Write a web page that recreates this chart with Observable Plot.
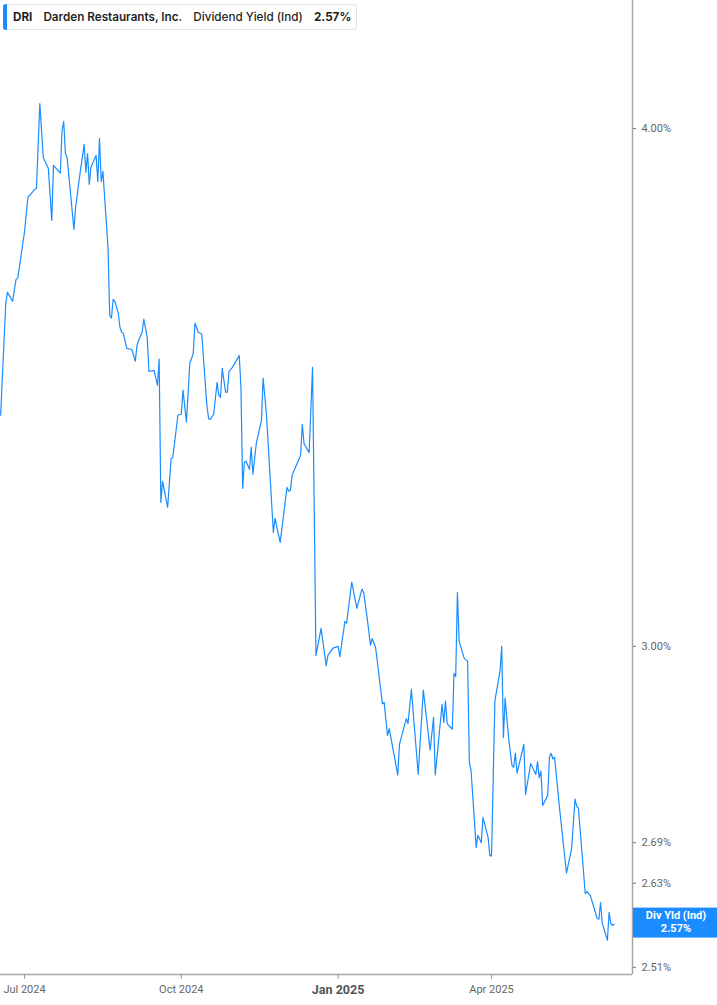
<!DOCTYPE html>
<html>
<head>
<meta charset="utf-8">
<script src="https://cdn.jsdelivr.net/npm/d3@7"></script>
<script src="https://cdn.jsdelivr.net/npm/@observablehq/plot@0.6"></script>
<style>
  html, body { margin: 0; padding: 0; background: #fff; }
  #wrap { position: relative; width: 717px; height: 1005px; overflow: hidden; }
  #legend {
    position: absolute; left: 3px; top: 4px; width: 354px; height: 26px;
    box-sizing: border-box; border: 1px solid #e4e4e4; border-radius: 3px; background: #fff;
    display: flex; align-items: center; white-space: nowrap;
    font-family: Inter, "Noto Sans", sans-serif; font-size: 11.7px; color: #1f1f1f;
  }
  #legend .bar { position: absolute; left: -1px; top: -1px; bottom: -1px; width: 4px; background: #1a8cff; border-radius: 3px 0 0 3px; }
  #legend .t1 { margin-left: 9px; font-weight: 700; }
  #legend .t2 { margin-left: 11px; font-weight: 600; }
  #legend .t3 { margin-left: 11px; font-weight: 500; }
  #legend .t4 { margin-left: 11px; font-weight: 700; }
</style>
</head>
<body>
<div id="wrap">
  <div id="chart"></div>
  <div id="legend"><span class="bar"></span><span class="t1">DRI</span><span class="t2">Darden Restaurants, Inc.</span><span class="t3">Dividend Yield (Ind)</span><span class="t4" id="lastv"></span></div>
</div>
<script>
const dates = [
  "2024-06-17","2024-06-20","2024-06-21","2024-06-24","2024-06-26","2024-06-27","2024-06-28","2024-06-30",
  "2024-07-01","2024-07-03","2024-07-07","2024-07-08","2024-07-10","2024-07-12","2024-07-15","2024-07-17",
  "2024-07-18","2024-07-22","2024-07-23","2024-07-24","2024-07-25","2024-07-26","2024-07-30","2024-07-31",
  "2024-08-02","2024-08-05","2024-08-06","2024-08-07","2024-08-08","2024-08-09","2024-08-12","2024-08-13",
  "2024-08-14","2024-08-15","2024-08-16","2024-08-19","2024-08-20","2024-08-21","2024-08-22","2024-08-23",
  "2024-08-25","2024-08-26","2024-08-27","2024-08-28","2024-08-30","2024-09-02","2024-09-04","2024-09-05",
  "2024-09-06","2024-09-08","2024-09-09","2024-09-11","2024-09-12","2024-09-15","2024-09-17","2024-09-18",
  "2024-09-19","2024-09-20","2024-09-23","2024-09-25","2024-09-26","2024-09-27","2024-09-29","2024-10-01",
  "2024-10-02","2024-10-04","2024-10-06","2024-10-08","2024-10-09","2024-10-11","2024-10-13","2024-10-16",
  "2024-10-17","2024-10-18","2024-10-20","2024-10-22","2024-10-23","2024-10-24","2024-10-25","2024-10-27",
  "2024-10-28","2024-10-29","2024-10-31","2024-11-04","2024-11-05","2024-11-06","2024-11-07","2024-11-08",
  "2024-11-10","2024-11-11","2024-11-12","2024-11-14","2024-11-17","2024-11-18","2024-11-20","2024-11-24",
  "2024-11-25","2024-11-28","2024-12-02","2024-12-03","2024-12-04","2024-12-05","2024-12-10","2024-12-11",
  "2024-12-12","2024-12-15","2024-12-17","2024-12-19","2024-12-22","2024-12-25","2024-12-26","2024-12-29",
  "2025-01-01","2025-01-02","2025-01-05","2025-01-06","2025-01-09","2025-01-12","2025-01-15","2025-01-16",
  "2025-01-18","2025-01-20","2025-01-21","2025-01-23","2025-01-27","2025-01-28","2025-01-30","2025-01-31",
  "2025-02-05","2025-02-06","2025-02-10","2025-02-11","2025-02-13","2025-02-17","2025-02-20","2025-02-24",
  "2025-02-26","2025-02-27","2025-03-03","2025-03-04","2025-03-05","2025-03-06","2025-03-09","2025-03-10",
  "2025-03-11","2025-03-12","2025-03-13","2025-03-16","2025-03-18","2025-03-19","2025-03-20","2025-03-23",
  "2025-03-24","2025-03-26","2025-03-27","2025-03-30","2025-03-31","2025-04-01","2025-04-03","2025-04-06",
  "2025-04-07","2025-04-08","2025-04-09","2025-04-11","2025-04-13","2025-04-14","2025-04-15","2025-04-16",
  "2025-04-20","2025-04-21","2025-04-24","2025-04-27","2025-04-28","2025-04-29","2025-04-30","2025-05-01",
  "2025-05-04","2025-05-05","2025-05-06","2025-05-07","2025-05-08","2025-05-11","2025-05-15","2025-05-18",
  "2025-05-20","2025-05-21","2025-05-22","2025-05-26","2025-05-27","2025-05-29","2025-06-02","2025-06-03",
  "2025-06-04","2025-06-05","2025-06-08","2025-06-09","2025-06-10","2025-06-11","2025-06-12"
];
const yields = [
  3.411,3.630,3.652,3.634,3.678,3.681,3.703,3.753,
  3.776,3.850,3.867,3.869,4.056,3.936,3.912,3.801,
  3.919,3.902,3.994,4.016,3.945,3.936,3.782,3.829,
  3.886,3.965,3.904,3.945,3.878,3.915,3.941,3.884,
  3.978,3.884,3.906,3.744,3.606,3.600,3.638,3.634,
  3.610,3.582,3.572,3.570,3.540,3.538,3.515,3.546,
  3.556,3.572,3.598,3.562,3.495,3.497,3.468,3.519,
  3.250,3.288,3.241,3.330,3.332,3.358,3.411,3.413,
  3.459,3.398,3.511,3.530,3.590,3.572,3.568,3.430,
  3.405,3.403,3.413,3.474,3.449,3.445,3.501,3.455,
  3.455,3.495,3.503,3.526,3.464,3.275,3.323,3.325,
  3.310,3.351,3.301,3.358,3.401,3.482,3.411,3.196,
  3.221,3.178,3.277,3.270,3.272,3.299,3.336,3.394,
  3.358,3.341,3.503,2.985,3.030,2.968,2.985,2.997,
  3.000,2.983,3.042,3.039,3.109,3.064,3.097,3.091,
  3.049,3.002,3.013,2.998,2.906,2.908,2.855,2.866,
  2.793,2.841,2.882,2.874,2.929,2.794,2.928,2.832,
  2.884,2.793,2.905,2.876,2.910,2.874,2.865,2.955,
  2.950,3.091,3.008,2.980,2.975,2.813,2.800,2.683,
  2.701,2.690,2.728,2.698,2.671,2.670,2.911,2.959,
  3.000,2.852,2.915,2.852,2.808,2.805,2.827,2.796,
  2.841,2.763,2.811,2.794,2.814,2.789,2.799,2.746,
  2.762,2.821,2.827,2.818,2.821,2.740,2.645,2.681,
  2.756,2.745,2.742,2.615,2.618,2.612,2.579,2.578,
  2.602,2.572,2.548,2.588,2.572,2.569,2.571
];
const xTickDates = ["2024-07-01","2024-10-01","2025-01-01","2025-04-01"];
const xTickLabels = ["Jul 2024","Oct 2024","Jan 2025","Apr 2025"];
const yTicks = [2.51, 2.63, 2.69, 3.00, 4.00];
const seriesLabel = "Div Yld (Ind)";

const data = dates.map((d, i) => ({date: new Date(d + "T00:00:00Z"), value: yields[i]}));
const xStart = new Date("2024-06-16T22:00:00Z");
const xEnd = new Date("2025-06-22T17:30:00Z");
const yMin = 2.5, yMax = 4.295;
const tickMap = new Map(xTickDates.map((d, i) => [+new Date(d + "T00:00:00Z"), xTickLabels[i]]));
const last = yields[yields.length - 1];
const blue = "#1a8cff";

const chart = Plot.plot({
  width: 717, height: 1005,
  marginTop: 0, marginRight: 85, marginBottom: 31, marginLeft: 0,
  style: {fontFamily: "Roboto, 'Liberation Sans', sans-serif", fontSize: "11px", color: "#666", background: "#fff", overflow: "visible"},
  x: {type: "utc", domain: [xStart, xEnd]},
  y: {type: "log", domain: [yMin, yMax]},
  marks: [
    Plot.ruleY([yMin], {stroke: "#a6a6a6", strokeWidth: 1.5}),
    Plot.ruleX([xEnd], {stroke: "#a6a6a6", strokeWidth: 1.5}),
    Plot.axisX({ticks: xTickDates.map(d => new Date(d + "T00:00:00Z")), tickFormat: d => tickMap.get(+d), tickSize: 5, tickPadding: 6, label: null, stroke: "#999", fill: "#666"}),
    Plot.axisY({anchor: "right", ticks: yTicks, tickFormat: d => d.toFixed(2) + "%", tickSize: 3, tickPadding: 6, label: null, stroke: "#777", fill: "#666"}),
    Plot.lineY(data, {x: "date", y: "value", stroke: blue, strokeWidth: 1.2, curve: "linear"})
  ]
});
document.getElementById("chart").appendChild(chart);
document.getElementById("lastv").textContent = last.toFixed(2) + "%";

const svg = d3.select(chart);
svg.selectAll("text").each(function() {
  if (this.textContent === "Jan 2025") {
    d3.select(this).attr("font-weight", "700").attr("font-size", "12.5px").attr("fill", "#555");
  }
});
const xs = chart.scale("x"), ys = chart.scale("y");
const yy = ys.apply(last);
const x0 = xs.apply(xEnd) + 1;
const g = svg.append("g");
g.append("rect").attr("x", x0).attr("y", yy - 16).attr("width", 717 - x0).attr("height", 30).attr("fill", blue);
g.append("text").attr("x", (x0 + 717) / 2 + 1).attr("y", yy - 5).attr("text-anchor", "middle")
  .attr("fill", "#fff").attr("font-weight", "700").attr("font-size", "11px").text(seriesLabel);
g.append("text").attr("x", (x0 + 717) / 2 + 1).attr("y", yy + 8).attr("text-anchor", "middle")
  .attr("fill", "#fff").attr("font-weight", "700").attr("font-size", "11px").text(last.toFixed(2) + "%");
</script>
</body>
</html>
